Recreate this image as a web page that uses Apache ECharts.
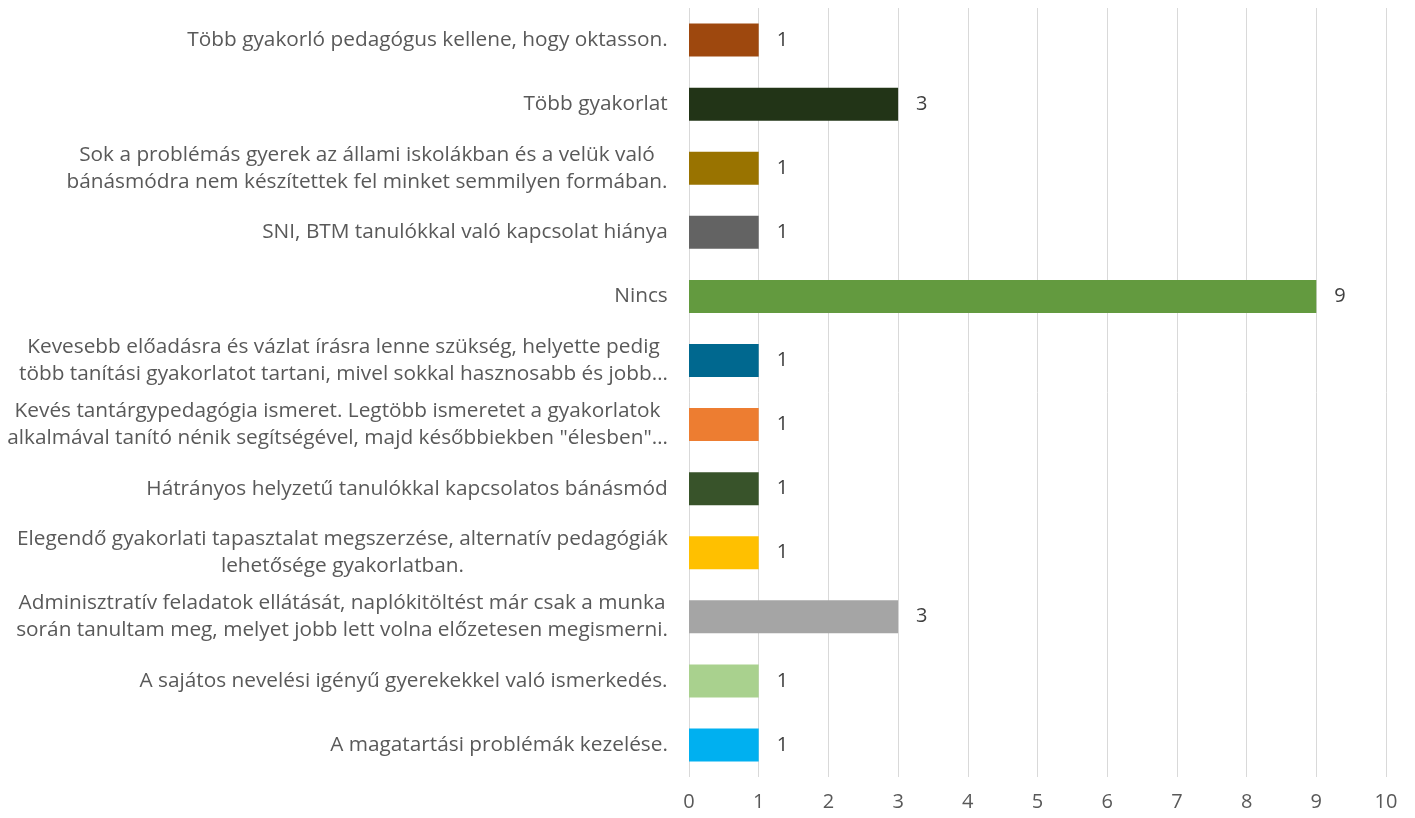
<!DOCTYPE html>
<html>
<head>
<meta charset="utf-8">
<script src="https://cdn.jsdelivr.net/npm/echarts@6/dist/echarts.min.js"></script>
<style>
  html, body { margin: 0; padding: 0; background: #fff; }
  #chart { width: 1415px; height: 818px; }
</style>
</head>
<body>
<div id="chart"></div>
<script>
const categories = [
    "Több gyakorló pedagógus kellene, hogy oktasson.",
    "Több gyakorlat",
    "Sok a problémás gyerek az állami iskolákban és a velük való\nbánásmódra nem készítettek fel minket semmilyen formában.",
    "SNI, BTM tanulókkal való kapcsolat hiánya",
    "Nincs",
    "Kevesebb előadásra és vázlat írásra lenne szükség, helyette pedig\ntöbb tanítási gyakorlatot tartani, mivel sokkal hasznosabb és jobb…",
    "Kevés tantárgypedagógia ismeret. Legtöbb ismeretet a gyakorlatok\nalkalmával tanító nénik segítségével, majd későbbiekben \"élesben\"…",
    "Hátrányos helyzetű tanulókkal kapcsolatos bánásmód",
    "Elegendő gyakorlati tapasztalat megszerzése, alternatív pedagógiák\nlehetősége gyakorlatban.",
    "Adminisztratív feladatok ellátását, naplókitöltést már csak a munka\nsorán tanultam meg, melyet jobb lett volna előzetesen megismerni.",
    "A sajátos nevelési igényű gyerekekkel való ismerkedés.",
    "A magatartási problémák kezelése."
];
const values = [1, 3, 1, 1, 9, 1, 1, 1, 1, 3, 1, 1];
const barColors = [
    "#9E480E", "#223417", "#997300", "#636363", "#639A3F", "#00688F",
    "#ED7D31", "#38532A", "#FFC000", "#A5A5A5", "#A9D18E", "#00B0F0"
];

const FONT = '"Open Sans", sans-serif';
const CAT_SIZE = 20.8;
const NUM_SIZE = 20;

// measure lines so multi-line labels can be centred inside a right-aligned block
const ctx = document.createElement("canvas").getContext("2d");
ctx.font = CAT_SIZE + "px " + '"Open Sans"';
const rich = {};
categories.forEach((c, i) => {
    const w = Math.max(...c.split("\n").map(l => ctx.measureText(l).width));
    rich["l" + i] = {
        width: Math.ceil(w) + 2,
        align: "center",
        fontFamily: FONT,
        fontSize: CAT_SIZE,
        color: "#595959",
        lineHeight: 27
    };
});

const chart = echarts.init(document.getElementById("chart"));
chart.setOption({
    animation: false,
    grid: { left: 689, right: 29, top: 8, bottom: 41, containLabel: false, outerBoundsMode: "none" },
    xAxis: {
        type: "value",
        min: 0,
        max: 10,
        interval: 1,
        axisLine: { show: false },
        axisTick: { show: false },
        axisLabel: { color: "#595959", fontFamily: FONT, fontSize: NUM_SIZE, margin: 15 },
        splitLine: { show: true, lineStyle: { color: "#D9D9D9", width: 1 } }
    },
    yAxis: {
        type: "category",
        inverse: true,
        data: categories,
        axisLine: { show: false },
        axisTick: { show: false },
        axisLabel: {
            margin: 20,
            align: "right",
            formatter: (val, i) => val.split("\n").map(l => "{l" + i + "|" + l + "}").join("\n"),
            rich: rich
        }
    },
    series: [
        {
            type: "bar",
            barWidth: 33,
            data: values.map((v, i) => ({ value: v, itemStyle: { color: barColors[i] } })),
            label: {
                show: true,
                position: "right",
                distance: 18,
                color: "#404040",
                fontFamily: FONT,
                fontSize: NUM_SIZE
            }
        }
    ]
});
</script>
</body>
</html>
